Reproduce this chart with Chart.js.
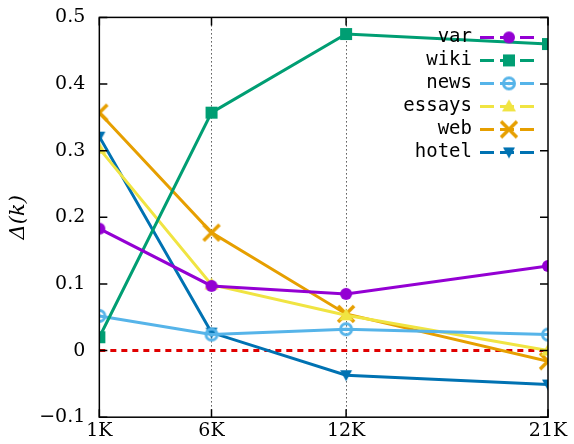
<!DOCTYPE html>
<html>
<head>
<meta charset="utf-8">
<script src="https://cdn.jsdelivr.net/npm/chart.js@4"></script>
<style>
  html, body { margin: 0; padding: 0; background: #fff; }
  #wrap { width: 574px; height: 444px; }
</style>
</head>
<body>
<div id="wrap"><canvas id="chart"></canvas></div>
<script>
// x positions (thousands of samples)
const sizes = [1, 6, 12, 21];
const xTicks = [1, 6, 12, 21];
const yTicks = [-0.1, 0, 0.1, 0.2, 0.3, 0.4, 0.5];

// values
const varVals    = [0.183, 0.097, 0.085, 0.127];
const wikiVals   = [0.020, 0.357, 0.475, 0.460];
const newsVals   = [0.052, 0.024, 0.032, 0.024];
const essaysVals = [0.303, 0.099, 0.053, 0.000];
const webVals    = [0.357, 0.177, 0.055, -0.016];
const hotelVals  = [0.321, 0.027, -0.037, -0.051];
const zeroVals   = [0, 0, 0, 0];

const names = ['var', 'wiki', 'news', 'essays', 'web', 'hotel'];
const colors = ['#9400d3', '#009e73', '#56b4e9', '#f0e442', '#e69f00', '#0072b2'];
const styles = ['circle', 'rect', 'ring', 'triangle', 'cross', 'tri-down'];
const allVals = [varVals, wikiVals, newsVals, essaysVals, webVals, hotelVals];

// custom point shapes drawn as canvases
function marker(kind, color) {
    const c = document.createElement('canvas');
    c.width = 22; c.height = 22;
    const g = c.getContext('2d');
    g.fillStyle = color; g.strokeStyle = color;
    g.translate(11, 11);
    if (kind === 'circle') { g.beginPath(); g.arc(0, 0, 6, 0, 2 * Math.PI); g.fill(); }
    if (kind === 'rect') { g.fillRect(-6, -6, 12, 12); }
    if (kind === 'ring') {
        g.lineWidth = 3; g.beginPath(); g.arc(0, 0, 5.5, 0, 2 * Math.PI); g.stroke();
        g.beginPath(); g.arc(0, 0, 1.5, 0, 2 * Math.PI); g.fill();
    }
    if (kind === 'triangle') { g.beginPath(); g.moveTo(0, -7); g.lineTo(7, 5); g.lineTo(-7, 5); g.closePath(); g.fill(); }
    if (kind === 'tri-down') { g.beginPath(); g.moveTo(0, 6); g.lineTo(6, -5); g.lineTo(-6, -5); g.closePath(); g.fill(); }
    if (kind === 'cross') {
        g.lineWidth = 3.5; g.beginPath();
        g.moveTo(-8, -8); g.lineTo(8, 8); g.moveTo(8, -8); g.lineTo(-8, 8); g.stroke();
    }
    return c;
}
const markers = names.map((n, i) => marker(styles[i], colors[i]));

const datasets = names.map((n, i) => ({
    label: n,
    data: sizes.map((x, j) => ({ x: x, y: allVals[i][j] })),
    borderColor: colors[i],
    borderWidth: 3,
    pointStyle: markers[i],
    order: i
}));
datasets.push({
    label: 'zero',
    data: sizes.map((x, j) => ({ x: x, y: zeroVals[j] })),
    borderColor: '#e00000',
    borderWidth: 3,
    borderDash: [6, 5],
    pointRadius: 0,
    order: 10
});

// gnuplot-style legend plus a frame with inward ticks
const legendPlugin = {
    id: 'inlineLegend',
    afterDraw(chart) {
        const ctx = chart.ctx;
        const area = chart.chartArea;
        ctx.save();
        ctx.strokeStyle = '#000';
        ctx.lineWidth = 1.5;
        ctx.strokeRect(area.left, area.top, area.right - area.left, area.bottom - area.top);
        const ys = chart.scales.y, xs = chart.scales.x;
        yTicks.forEach(v => {
            const y = ys.getPixelForValue(v);
            ctx.beginPath(); ctx.moveTo(area.left, y); ctx.lineTo(area.left + 8, y);
            ctx.moveTo(area.right, y); ctx.lineTo(area.right - 8, y); ctx.stroke();
        });
        xTicks.forEach(v => {
            const x = xs.getPixelForValue(v);
            ctx.beginPath(); ctx.moveTo(x, area.bottom); ctx.lineTo(x, area.bottom - 8);
            ctx.moveTo(x, area.top); ctx.lineTo(x, area.top + 8); ctx.stroke();
        });
        ctx.font = '19px "DejaVu Sans Mono"';
        ctx.textAlign = 'right';
        ctx.textBaseline = 'middle';
        names.forEach((n, i) => {
            const y = area.top + 20 + i * 23;
            const x0 = area.right - 68, x1 = area.right - 10;
            ctx.fillStyle = '#000';
            ctx.fillText(n, x0 - 8, y);
            ctx.strokeStyle = colors[i];
            ctx.lineWidth = 3;
            ctx.setLineDash([14, 6]);
            ctx.beginPath(); ctx.moveTo(x0, y); ctx.lineTo(x1, y); ctx.stroke();
            ctx.setLineDash([]);
            ctx.drawImage(markers[i], (x0 + x1) / 2 - 11, y - 11);
        });
        ctx.restore();
    }
};

new Chart(document.getElementById('chart'), {
    type: 'line',
    data: { datasets: datasets },
    plugins: [legendPlugin],
    options: {
        responsive: true,
        maintainAspectRatio: false,
        animation: false,
        layout: { padding: { top: 10, right: 26, left: 4, bottom: 0 } },
        plugins: { legend: { display: false }, tooltip: { enabled: false } },
        scales: {
            x: {
                type: 'linear', min: 1, max: 21,
                afterBuildTicks: axis => { axis.ticks = xTicks.map(v => ({ value: v })); },
                ticks: { color: '#000', font: { family: 'DejaVu Serif', size: 19 }, padding: 2, callback: v => v + 'K' },
                grid: { color: c => (c.tick && (c.tick.value === 6 || c.tick.value === 12)) ? '#000' : 'rgba(0,0,0,0)',
                        lineWidth: 1, drawTicks: false },
                border: { display: false, dash: [1, 3] }
            },
            y: {
                min: -0.1, max: 0.5,
                afterBuildTicks: axis => { axis.ticks = yTicks.map(v => ({ value: v })); },
                ticks: { color: '#000', font: { family: 'DejaVu Serif', size: 19 }, padding: 6,
                         callback: v => (Math.abs(v) < 1e-9 ? '0' : (Math.round(v * 10) / 10).toString().replace('-', '−')) },
                grid: { display: false },
                border: { display: false },
                title: { display: true, text: 'Δ(k)', color: '#000', padding: 2, font: { family: 'DejaVu Serif', size: 21, style: 'italic' } }
            }
        }
    }
});
</script>
</body>
</html>
